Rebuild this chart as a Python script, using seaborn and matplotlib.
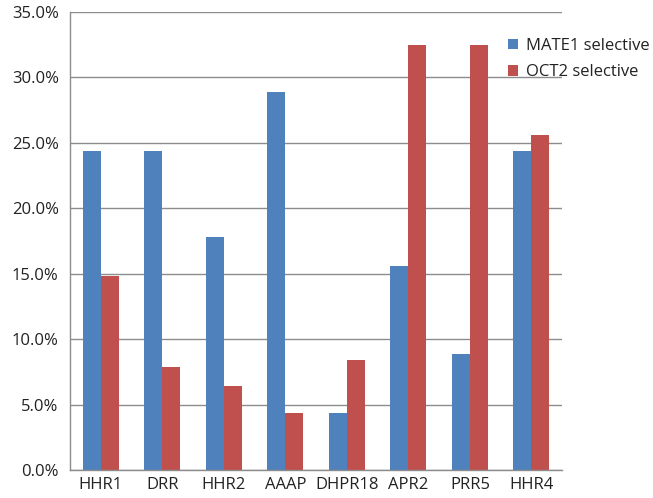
import matplotlib
matplotlib.use("Agg")
import matplotlib.pyplot as plt
import seaborn as sns
import pandas as pd
from matplotlib.patches import Patch
from matplotlib.ticker import FuncFormatter, FixedLocator

categories = ["HHR1", "DRR", "HHR2", "AAAP", "DHPR18", "APR2", "PRR5", "HHR4"]
mate1 = [24.4, 24.4, 17.8, 28.9, 4.4, 15.6, 8.9, 24.4]
oct2 = [14.8, 7.9, 6.4, 4.4, 8.4, 32.5, 32.5, 25.6]
series = ["MATE1 selective", "OCT2 selective"]
colors = ["#4F81BD", "#C0504D"]

df = pd.DataFrame({
    "category": categories * 2,
    "value": mate1 + oct2,
    "series": [series[0]] * len(categories) + [series[1]] * len(categories),
})

sns.set_style("white")
plt.rcParams["font.family"] = ["Open Sans", "DejaVu Sans"]

fig = plt.figure(figsize=(6.53, 4.98), dpi=100)
ax = fig.add_axes([0.107, 0.056, 0.754, 0.92])

sns.barplot(data=df, x="category", y="value", hue="series", order=categories,
            hue_order=series, palette=colors, width=0.585, saturation=1,
            linewidth=0, legend=False, ax=ax)

ax.set_ylim(0, 35)
ax.set_xlim(-0.5, len(categories) - 0.5)
ax.set_yticks(range(0, 36, 5))
ax.yaxis.set_major_formatter(FuncFormatter(lambda v, p: f"{v:.1f}%"))
ax.yaxis.grid(True, color="#8c8c8c", linewidth=1)
ax.set_axisbelow(True)

grey = "#8c8c8c"
for s in ["top", "right"]:
    ax.spines[s].set_visible(False)
for s in ["left", "bottom"]:
    ax.spines[s].set_color(grey)
    ax.spines[s].set_linewidth(1)

ax.tick_params(axis="x", which="major", length=0, labelsize=12, colors="#222222", pad=5)
ax.xaxis.set_minor_locator(FixedLocator([i - 0.5 for i in range(len(categories) + 1)]))
ax.tick_params(axis="x", which="minor", length=5, color=grey, width=1, direction="out")
ax.tick_params(axis="y", length=5, color=grey, width=1, direction="out",
               labelsize=12, pad=3, labelcolor="#222222")
ax.set_xlabel("")
ax.set_ylabel("")

handles = [Patch(facecolor=c, edgecolor="none", label=s) for c, s in zip(colors, series)]
leg = ax.legend(handles=handles, loc="upper left", bbox_to_anchor=(0.89, 0.943),
                frameon=False, fontsize=12, handlelength=0.6, handleheight=0.6,
                handletextpad=0.5, labelspacing=0.62, borderaxespad=0, borderpad=0)
for t in leg.get_texts():
    t.set_color("#222222")

fig.savefig("out.png", dpi=100)
